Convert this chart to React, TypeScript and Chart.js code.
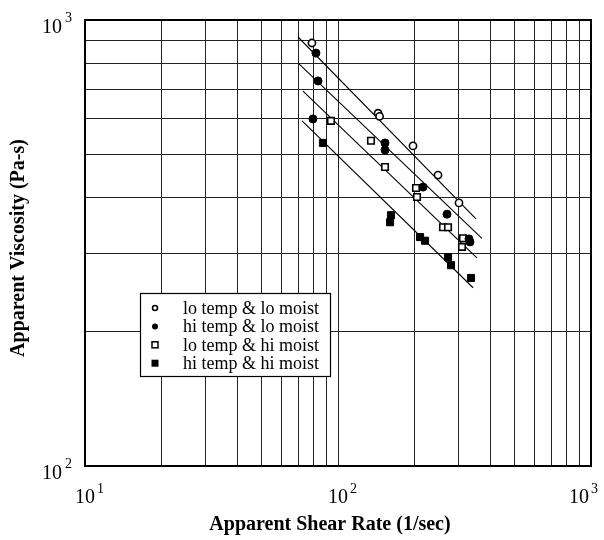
import { useEffect, useRef } from 'react';
import { Chart, registerables } from 'chart.js';

Chart.register(...registerables);

// ---- data ----
const seriesNames = [
  'lo temp & lo moist',
  'hi temp & lo moist',
  'lo temp & hi moist',
  'hi temp & hi moist',
];

const loTempLoMoistX = [78.9, 144, 146, 197.9, 248.5, 300.8];
const loTempLoMoistY = [888, 618, 608, 522, 449, 389];

const hiTempLoMoistX = [81.8, 83.4, 79.6, 153.4, 153.4, 216.8, 269.7, 329.5, 332.5];
const hiTempLoMoistY = [843, 730, 600, 530, 511, 422, 367, 323, 318];

const loTempHiMoistX = [93.8, 135, 153.4, 203.4, 205.3, 260, 272.2, 311.9, 309.1];
const loTempHiMoistY = [594, 536, 468, 420, 401, 343, 343, 324, 310];

const hiTempHiMoistX = [87.2, 162, 160.6, 211, 220.8, 272.2, 279.7, 335.5];
const hiTempHiMoistY = [530, 365, 352, 326, 320, 294, 282, 264];

// fitted power-law lines (start / end)
const fitLineX = [
  [69.5, 351],
  [70.1, 370.7],
  [72.7, 354],
  [72.1, 342],
];
const fitLineY = [
  [916, 358],
  [797, 324],
  [693, 293],
  [594, 251],
];

// grid positions (log decades with 1..9 subdivisions)
const xGridValues = [10, 20, 30, 40, 50, 60, 70, 80, 90, 100, 200, 300, 400, 500, 600, 700, 800, 900, 1000];
const yGridValues = [100, 200, 300, 400, 500, 600, 700, 800, 900, 1000];

const xTickPowers = [1, 2, 3];
const yTickPowers = [2, 3];

const xTitle = 'Apparent Shear Rate (1/sec)';
const yTitle = 'Apparent Viscosity (Pa-s)';

const SERIF = '"Liberation Serif", "Times New Roman", serif';

type Marker = { style: 'circle' | 'rect'; filled: boolean };
const markers: Marker[] = [
  { style: 'circle', filled: false },
  { style: 'circle', filled: true },
  { style: 'rect', filled: false },
  { style: 'rect', filled: true },
];

const toPoints = (xs: number[], ys: number[]) => xs.map((x, i) => ({ x, y: ys[i] }));

const decorPlugin = {
  id: 'decor',
  afterDraw(chart: any) {
    const { ctx, chartArea: a, scales } = chart;
    const xs = scales.x;
    const ys = scales.y;
    ctx.save();

    // frame
    ctx.strokeStyle = '#000';
    ctx.lineWidth = 2;
    ctx.strokeRect(a.left, a.top, a.right - a.left, a.bottom - a.top);

    ctx.fillStyle = '#000';
    ctx.textBaseline = 'alphabetic';

    // y tick labels 10^n
    for (const p of yTickPowers) {
      const py = ys.getPixelForValue(Math.pow(10, p));
      ctx.font = `20px ${SERIF}`;
      ctx.textAlign = 'right';
      ctx.fillText('10', a.left - 23, py + 13);
      ctx.font = `14px ${SERIF}`;
      ctx.textAlign = 'left';
      ctx.fillText(String(p), a.left - 20, py + 2);
    }

    // x tick labels 10^n
    const W = chart.width;
    for (const p of xTickPowers) {
      const px = xs.getPixelForValue(Math.pow(10, p));
      ctx.font = `20px ${SERIF}`;
      const w10 = ctx.measureText('10').width;
      ctx.font = `14px ${SERIF}`;
      const wSup = ctx.measureText(String(p)).width;
      let left = px - w10 / 2;
      const right = left + w10 + 2 + wSup;
      if (right > W - 6) left -= right - (W - 6);
      ctx.textAlign = 'left';
      ctx.font = `20px ${SERIF}`;
      ctx.fillText('10', left, a.bottom + 37);
      ctx.font = `14px ${SERIF}`;
      ctx.fillText(String(p), left + w10 + 2, a.bottom + 27);
    }

    // axis titles
    ctx.font = `bold 20px ${SERIF}`;
    ctx.textAlign = 'center';
    ctx.textBaseline = 'middle';
    ctx.fillText(xTitle, (a.left + a.right) / 2 - 8, a.bottom + 59);
    ctx.save();
    ctx.translate(19, (a.top + a.bottom) / 2 + 5);
    ctx.rotate(-Math.PI / 2);
    ctx.fillText(yTitle, 0, 0);
    ctx.restore();

    // legend box
    const bx = a.left + 55;
    const by = a.top + 273;
    const bw = 190;
    const bh = 83;
    ctx.fillStyle = '#fff';
    ctx.fillRect(bx, by, bw, bh);
    ctx.strokeStyle = '#000';
    ctx.lineWidth = 1.2;
    ctx.strokeRect(bx + 0.5, by + 0.5, bw, bh);
    ctx.font = `18px ${SERIF}`;
    ctx.textAlign = 'left';
    ctx.textBaseline = 'middle';
    seriesNames.forEach((name, i) => {
      const cy = by + 15 + i * 18.4;
      const mx = bx + 15;
      const m = markers[i];
      ctx.fillStyle = '#000';
      ctx.strokeStyle = '#000';
      ctx.lineWidth = 1.5;
      if (m.style === 'circle') {
        ctx.beginPath();
        ctx.arc(mx, cy, m.filled ? 3 : 2.5, 0, Math.PI * 2);
        if (m.filled) ctx.fill();
        else ctx.stroke();
      } else {
        if (m.filled) ctx.fillRect(mx - 3.5, cy - 3.5, 7, 7);
        else ctx.strokeRect(mx - 3, cy - 3, 6, 6);
      }
      ctx.fillStyle = '#000';
      ctx.fillText(name, bx + 43, cy + 1);
    });

    ctx.restore();
  },
};

export default function App() {
  const ref = useRef<HTMLCanvasElement | null>(null);

  useEffect(() => {
    if (!ref.current) return;
    const seriesX = [loTempLoMoistX, hiTempLoMoistX, loTempHiMoistX, hiTempHiMoistX];
    const seriesY = [loTempLoMoistY, hiTempLoMoistY, loTempHiMoistY, hiTempHiMoistY];

    const pointSets = seriesNames.map((name, i) => {
      const m = markers[i];
      return {
        type: 'scatter' as const,
        label: name,
        data: toPoints(seriesX[i], seriesY[i]),
        pointStyle: m.style,
        pointRadius: m.style === 'circle' ? (m.filled ? 4 : 3.6) : m.filled ? 5 : 4.6,
        backgroundColor: m.filled ? '#000' : '#fff',
        borderColor: '#000',
        borderWidth: m.filled ? 1 : 1.6,
        showLine: false,
      };
    });

    const lineSets = fitLineX.map((lx, i) => ({
      type: 'scatter' as const,
      label: 'fit ' + seriesNames[i],
      data: toPoints(lx, fitLineY[i]),
      showLine: true,
      borderColor: '#000',
      borderWidth: 1.1,
      pointRadius: 0,
      fill: false,
    }));

    const gridOpts = { color: '#222', lineWidth: 1, drawTicks: false };

    const chart = new Chart(ref.current, {
      type: 'scatter',
      data: { datasets: [...pointSets, ...lineSets] as any },
      options: {
        responsive: false,
        animation: false,
        layout: { padding: { left: 0, right: 13, top: 20, bottom: 0 } },
        plugins: { legend: { display: false }, tooltip: { enabled: false } },
        scales: {
          x: {
            type: 'logarithmic',
            position: 'bottom',
            min: 10,
            max: 1000,
            ticks: { display: false, autoSkip: false },
            grid: gridOpts,
            border: { display: false },
            afterBuildTicks: (s: any) => {
              s.ticks = xGridValues.map((v) => ({ value: v }));
            },
            afterFit: (s: any) => {
              s.height = 74;
            },
          },
          y: {
            type: 'logarithmic',
            position: 'left',
            min: 100,
            max: 1000,
            ticks: { display: false, autoSkip: false },
            grid: gridOpts,
            border: { display: false },
            afterBuildTicks: (s: any) => {
              s.ticks = yGridValues.map((v) => ({ value: v }));
            },
            afterFit: (s: any) => {
              s.width = 85;
            },
          },
        },
      } as any,
      plugins: [decorPlugin],
    });
    return () => chart.destroy();
  }, []);

  return (
    <div style={{ position: 'fixed', left: 0, top: 0, width: 604, height: 540, background: '#fff' }}>
      <canvas ref={ref} width={604} height={540} style={{ display: 'block' }} />
    </div>
  );
}
